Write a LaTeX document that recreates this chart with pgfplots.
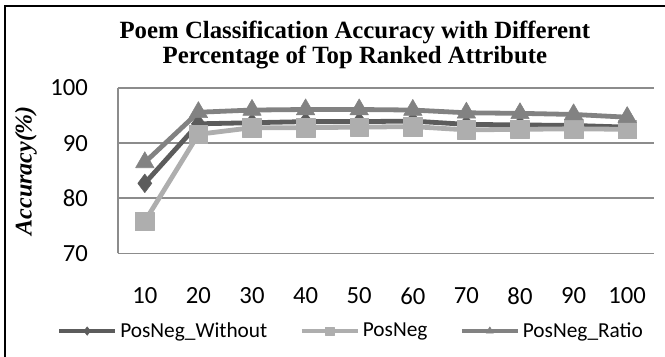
\documentclass[border=0pt]{standalone}
\usepackage{fontspec}
\setmainfont{Liberation Serif}
\newfontfamily\calibri{Carlito}
\usepackage{pgfplots}
\pgfplotsset{compat=1.18}

\definecolor{cWithout}{HTML}{5C5C5C}
\definecolor{cPosNeg}{HTML}{AEAEAE}
\definecolor{cRatio}{HTML}{828282}
\definecolor{gridc}{HTML}{8C8C8C}

\begin{document}
\begin{tikzpicture}
% page frame
\path[use as bounding box] (0pt,0pt) rectangle (498.75pt,-267.75pt);
\draw[line width=1.5pt] (3.75pt,-267.75pt) -- (3.75pt,-4.5pt) -- (498.75pt,-4.5pt);

\begin{axis}[
  at={(88.5pt,-190pt)}, anchor=south west,
  scale only axis, width=402pt, height=124pt,
  xmin=5, xmax=105, ymin=70, ymax=100,
  xtick={10,20,...,100}, ytick={70,80,90,100},
  axis lines*=left,
  axis line style={gridc, line width=1.1pt},
  ymajorgrids, grid style={gridc, line width=1.1pt},
  major tick length=0pt,
  /pgf/number format/assume math mode=true,
  tick label style={font=\calibri\fontsize{18.5}{20}\selectfont},
  yticklabel style={xshift=-19pt},
  xticklabel style={yshift=-22pt},
  title={Poem Classification Accuracy with Different\\Percentage of Top Ranked Attribute},
  title style={at={(axis description cs:0.442,1.213)}, anchor=center, align=center,
               font=\bfseries\fontsize{18.6}{19}\selectfont},
  ylabel={Accuracy(\%)},
  ylabel style={at={(axis description cs:-0.172,0.5)}, anchor=center,
                font=\bfseries\itshape\fontsize{18}{20}\selectfont},
  legend columns=3,
  legend style={draw=none, fill=none, at={(axis description cs:0.435,-0.47)}, anchor=center,
                font=\calibri\fontsize{16}{18}\selectfont,
                /tikz/every even column/.append style={column sep=22pt}},
  legend image code/.code={
    \draw[mark repeat=2, mark phase=2, #1, mark size=3.2pt]
      plot coordinates {(0pt,0pt) (21pt,0pt) (42pt,0pt)};
  },
  every axis plot/.append style={line width=3.6pt, line join=round},
]
\addplot[cWithout, mark=diamond*, mark size=7pt, mark options={solid, line width=0.4pt}]
  coordinates {(10,82.7) (20,93.5) (30,93.7) (40,93.9) (50,93.9) (60,94.0) (70,93.4) (80,93.3) (90,93.2) (100,92.9)};
\addlegendentry{PosNeg\_Without}
\addplot[cPosNeg, mark=square*, mark size=7pt, mark options={solid, line width=0.4pt}]
  coordinates {(10,75.8) (20,91.6) (30,92.8) (40,92.8) (50,92.9) (60,93.0) (70,92.4) (80,92.5) (90,92.6) (100,92.5)};
\addlegendentry{PosNeg}
\addplot[cRatio, mark=triangle*, mark size=8pt, mark options={solid, line width=0.4pt}]
  coordinates {(10,86.5) (20,95.6) (30,96.0) (40,96.1) (50,96.1) (60,96.0) (70,95.5) (80,95.4) (90,95.2) (100,94.7)};
\addlegendentry{PosNeg\_Ratio}
\end{axis}
\end{tikzpicture}
\end{document}
